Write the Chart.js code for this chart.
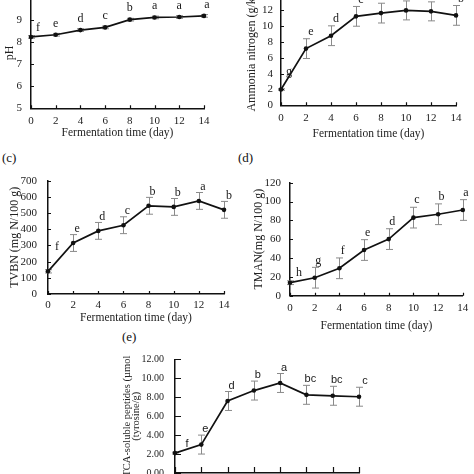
<!DOCTYPE html>
<html>
<head>
<meta charset="utf-8">
<script src="https://cdn.jsdelivr.net/npm/chart.js@4.4.1/dist/chart.umd.min.js"></script>
<style>
  html, body { margin: 0; padding: 0; background: #fff; }
  body { width: 474px; height: 474px; overflow: hidden; position: relative; }
  canvas { position: absolute; }
  .tag { position: absolute; font: 13px "Liberation Serif", "Times New Roman", serif; color: #111; line-height: 1; }
</style>
</head>
<body>
<div class="tag" style="left:2px;top:151px">(c)</div>
<div class="tag" style="left:238px;top:151px">(d)</div>
<div class="tag" style="left:122px;top:330px">(e)</div>
<canvas id="cA"></canvas>
<canvas id="cB"></canvas>
<canvas id="cC"></canvas>
<canvas id="cD"></canvas>
<canvas id="cE"></canvas>
<script>
/* values, one set per panel */
const DAYS = [0, 2, 4, 6, 8, 10, 12, 14];

const PH      = [8.22, 8.32, 8.53, 8.65, 9.00, 9.10, 9.12, 9.17];
const PH_ERR  = [0.06, 0.06, 0.06, 0.06, 0.06, 0.06, 0.06, 0.06];
const PH_LET  = ['f', 'e', 'd', 'c', 'b', 'a', 'a', 'a'];

const AN      = [2.0, 7.17, 8.8, 11.25, 11.66, 12.0, 11.88, 11.37];
const AN_ERR  = [0.1, 1.25, 1.25, 1.25, 1.25, 1.2, 1.2, 1.25];
const AN_LET  = ['g', 'e', 'd', 'c', 'b', 'a', 'a', 'b'];

const TVBN     = [140, 315, 390, 425, 545, 538, 575, 520];
const TVBN_ERR = [10, 52, 52, 52, 52, 52, 52, 52];
const TVBN_LET = ['f', 'e', 'd', 'c', 'b', 'b', 'a', 'b'];

const TMAN     = [13.8, 19.1, 29.1, 48.5, 60.1, 82.9, 86.5, 91.0];
const TMAN_ERR = [2, 11, 11, 11, 11, 11, 11, 11];
const TMAN_LET = ['h', 'g', 'f', 'e', 'd', 'c', 'b', 'a'];

const TCA     = [2.1, 3.0, 7.6, 8.7, 9.5, 8.25, 8.15, 8.05];
const TCA_ERR = [0.1, 1.0, 1.0, 1.0, 1.0, 1.0, 1.0, 1.0];
const TCA_LET = ['f', 'e', 'd', 'b', 'a', 'bc', 'bc', 'c'];

const SERIF = '"Liberation Serif", "Times New Roman", serif';
const SANS  = '"Liberation Sans", Arial, sans-serif';

/* error bars, inward tick marks and significance letters */
const marks = {
  id: 'marks',
  beforeDatasetsDraw(chart, args, o) {
    const { ctx, scales: { x, y } } = chart;
    ctx.save();
    ctx.strokeStyle = '#8a8a8a';
    ctx.lineWidth = 1;
    o.vals.forEach((v, i) => {
      const px = Math.round(x.getPixelForValue(DAYS[i])) + 0.5;
      const t = y.getPixelForValue(v + o.errs[i]);
      const b = y.getPixelForValue(v - o.errs[i]);
      ctx.beginPath();
      ctx.moveTo(px, t); ctx.lineTo(px, b);
      ctx.moveTo(px - 3.5, t); ctx.lineTo(px + 3.5, t);
      ctx.moveTo(px - 3.5, b); ctx.lineTo(px + 3.5, b);
      ctx.stroke();
    });
    ctx.restore();
  },
  afterDatasetsDraw(chart, args, o) {
    const { ctx, chartArea: a, scales: { x, y } } = chart;
    ctx.save();
    ctx.strokeStyle = '#111';
    ctx.lineWidth = 1.2;
    ctx.beginPath();
    x.ticks.forEach(t => {
      const px = Math.round(x.getPixelForValue(t.value)) + 0.5;
      ctx.moveTo(px, a.bottom); ctx.lineTo(px, a.bottom - o.tick);
    });
    y.ticks.forEach(t => {
      const py = Math.round(y.getPixelForValue(t.value)) + 0.5;
      ctx.moveTo(a.left, py); ctx.lineTo(a.left + o.tick, py);
    });
    ctx.stroke();

    ctx.fillStyle = '#1a1a1a';
    ctx.font = o.font;
    ctx.textAlign = 'center';
    ctx.textBaseline = 'middle';
    const n = o.vals.length;
    o.lets.forEach((s, i) => {
      let px = x.getPixelForValue(DAYS[i]) + o.dx;
      let py = y.getPixelForValue(o.vals[i] + o.errs[i]) - o.gap;
      if (i === 0) { px = x.getPixelForValue(DAYS[0]) + o.firstDx; py = y.getPixelForValue(o.vals[0] + o.errs[0]) - o.firstUp; }
      if (i === n - 1) px = x.getPixelForValue(DAYS[i]) + o.lastDx;
      ctx.fillText(s, px, py);
    });
    ctx.restore();
  }
};

/* box = canvas in page px, area = plot area in page px */
function panel(id, box, area, p) {
  const cv = document.getElementById(id);
  cv.width = box.w; cv.height = box.h;
  cv.style.left = box.x + 'px';
  cv.style.top = box.y + 'px';

  const L = area.l - box.x, R = area.r - box.x;
  const T = area.t - box.y, B = area.b - box.y;
  const yLH = p.yTitleSize * p.yTitleLH;

  return new Chart(cv, {
    type: 'line',
    data: {
      datasets: [{
        data: DAYS.map((d, i) => ({ x: d, y: p.vals[i] })),
        borderColor: '#111',
        borderWidth: 1.7,
        pointRadius: 2.3,
        pointBackgroundColor: '#111',
        pointBorderWidth: 0,
        tension: 0,
        clip: false,
      }],
    },
    options: {
      responsive: false, animation: false, devicePixelRatio: 1,
      layout: { padding: { left: 0, top: T, right: box.w - R, bottom: 0 } },
      plugins: {
        legend: { display: false },
        tooltip: { enabled: false },
        marks: {
          vals: p.vals, errs: p.errs, lets: p.lets, font: p.letFont, tick: p.tick,
          gap: p.gap, dx: p.dx, firstDx: p.firstDx, firstUp: p.firstUp, lastDx: p.lastDx,
        },
      },
      scales: {
        x: {
          type: 'linear', min: 0, max: 14,
          afterFit: s => { s.height = box.h - B; },
          grid: { display: false, drawTicks: false },
          border: { display: true, color: '#111', width: 1.5 },
          ticks: {
            stepSize: 2, color: '#222', autoSkip: false, maxRotation: 0,
            padding: p.xTickY - box.y - B - 6.6,
            font: { family: SERIF, size: 11, lineHeight: 1.2 },
          },
          title: {
            display: p.xTitle, text: 'Fermentation time (day)', color: '#222',
            font: { family: SERIF, size: 11.5, lineHeight: 1.2 },
            padding: { top: 0, bottom: box.h - (p.xTitleY - box.y) - 6.9 },
          },
        },
        y: {
          min: p.min, max: p.max,
          afterFit: s => { s.width = L; },
          grid: { display: false, drawTicks: false },
          border: { display: true, color: '#111', width: 1.5 },
          ticks: {
            stepSize: p.step, color: '#222', autoSkip: false,
            padding: area.l - p.yTickR,
            font: { family: SERIF, size: p.yTickSize || 11, lineHeight: 1.2 },
            callback: p.fmt || (v => v),
          },
          title: {
            display: true, text: p.yTitle, color: '#222',
            font: { family: SERIF, size: p.yTitleSize, lineHeight: p.yTitleLH },
            padding: { top: p.yTitleX - box.x - yLH / 2, bottom: 0 },
          },
        },
      },
    },
    plugins: [marks],
  });
}

const serifLet = '12px ' + SERIF;

panel('cA', { x: 0, y: -20, w: 237, h: 165 }, { l: 31, r: 204, t: -2.5, b: 108.3 }, {
  vals: PH, errs: PH_ERR, lets: PH_LET, min: 5, max: 10, step: 1,
  yTitle: 'pH', yTitleSize: 12, yTitleLH: 1.2, yTitleX: 10, yTickR: 22,
  xTickY: 120.7, xTitleY: 132.7, xTitle: true, tick: 3,
  letFont: serifLet, gap: 10, dx: 0, firstDx: 7, firstUp: 7.5, lastDx: 3,
});

panel('cB', { x: 237, y: -20, w: 237, h: 165 }, { l: 281, r: 456, t: -5.9, b: 105.3 }, {
  vals: AN, errs: AN_ERR, lets: AN_LET, min: 0, max: 14, step: 2,
  yTitle: 'Ammonia nitrogen (g/kg)', yTitleSize: 12, yTitleLH: 1.2, yTitleX: 252, yTickR: 273,
  xTickY: 117.7, xTitleY: 134.3, xTitle: true, tick: 3,
  letFont: serifLet, gap: 7, dx: 5, firstDx: 8, firstUp: 16.5, lastDx: 5,
});

panel('cC', { x: 0, y: 140, w: 237, h: 190 }, { l: 48, r: 224, t: 180.7, b: 294 }, {
  vals: TVBN, errs: TVBN_ERR, lets: TVBN_LET, min: 0, max: 700, step: 100,
  yTitle: 'TVBN (mg N/100 g)', yTitleSize: 12, yTitleLH: 1.2, yTitleX: 15, yTickR: 37,
  xTickY: 305, xTitleY: 318, xTitle: true, tick: 3,
  letFont: serifLet, gap: 6, dx: 4, firstDx: 9, firstUp: 22.5, lastDx: 5,
});

panel('cD', { x: 237, y: 140, w: 237, h: 195 }, { l: 290, r: 467, t: 182.7, b: 295.7 }, {
  vals: TMAN, errs: TMAN_ERR, lets: TMAN_LET, min: 0, max: 120, step: 20,
  yTitle: 'TMAN(mg N/100 g)', yTitleSize: 12, yTitleLH: 1.2, yTitleX: 259, yTickR: 281,
  xTickY: 308, xTitleY: 326, xTitle: true, tick: 3,
  letFont: serifLet, gap: 7, dx: 3.5, firstDx: 9, firstUp: 8, lastDx: 3,
});

panel('cE', { x: 90, y: 330, w: 300, h: 160 }, { l: 175, r: 359, t: 359.3, b: 475.4 }, {
  vals: TCA, errs: TCA_ERR, lets: TCA_LET, min: 0, max: 12, step: 2,
  fmt: v => v.toFixed(2), yTickSize: 10,
  yTitle: ['TCA-soluble peptides (\u00b5mol', '(tyrosine/g)'], yTitleSize: 10.5, yTitleLH: 0.88,
  yTitleX: 127, yTickR: 164,
  xTickY: 484, xTitleY: 500, xTitle: false, tick: 6,
  letFont: '11px ' + SANS, gap: 6, dx: 4, firstDx: 12, firstUp: 8, lastDx: 6,
});
</script>
</body>
</html>
